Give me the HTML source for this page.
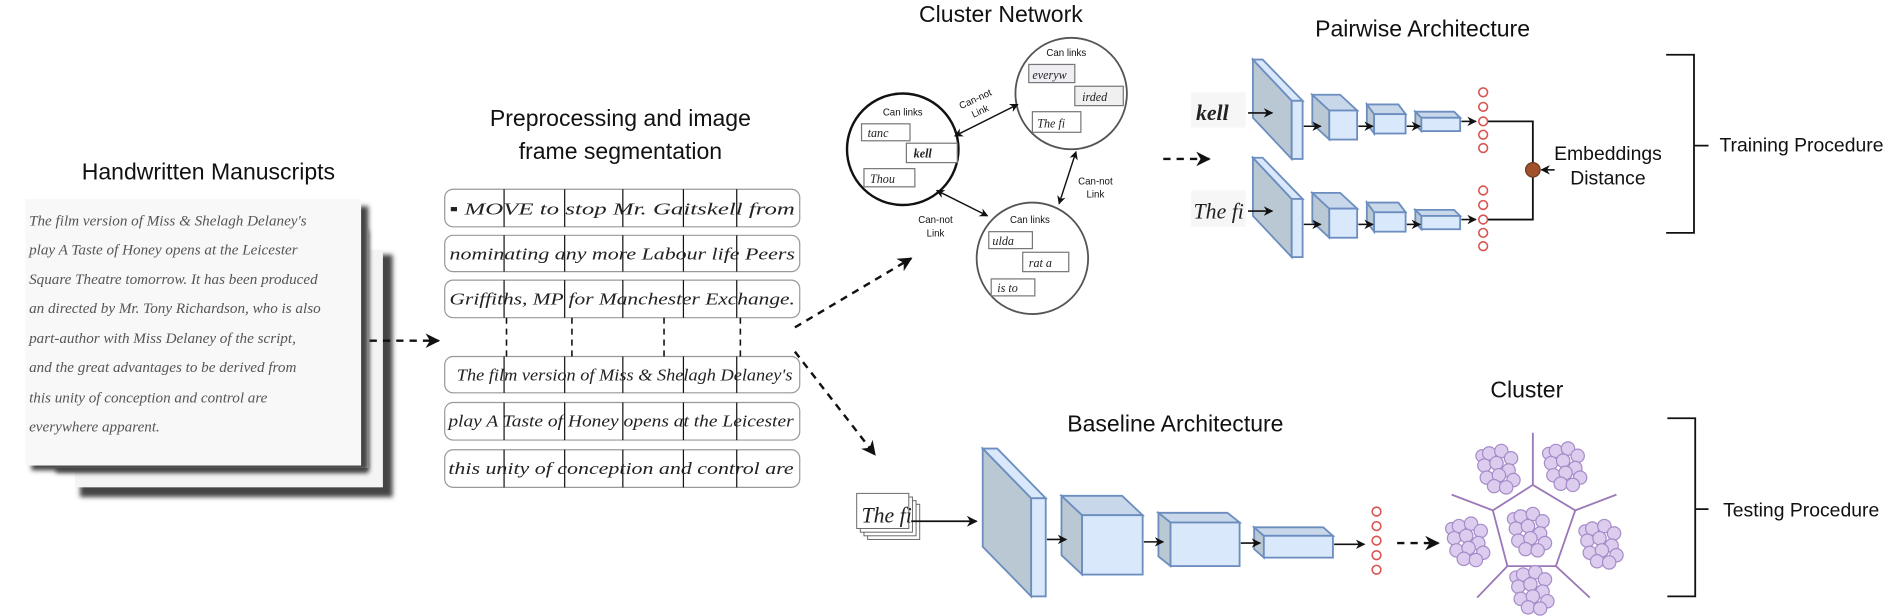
<!DOCTYPE html>
<html><head><meta charset="utf-8"><style>
html,body{margin:0;padding:0;background:#fff;}
svg{display:block;}
.t{font-family:"Liberation Sans",sans-serif;fill:#111;}
.h{font-family:"Liberation Serif",serif;font-style:italic;fill:#222;}
</style></head><body>
<svg width="1900" height="616" viewBox="0 0 1568 508" xmlns="http://www.w3.org/2000/svg">
<defs>
<marker id="a" viewBox="0 0 10 10" refX="9" refY="5" markerWidth="6" markerHeight="6" orient="auto-start-reverse"><path d="M0,0L10,5L0,10L3,5z" fill="#111"/></marker>
<filter id="sh" x="-10%" y="-10%" width="130%" height="130%"><feGaussianBlur stdDeviation="2"/></filter>
<g id="bl" fill="#dccdef" stroke="#a58cc8" stroke-width="1">
<circle cx="-14" cy="-10" r="5"/><circle cx="-8" cy="-12" r="5.5"/><circle cx="2" cy="-14" r="5.5"/><circle cx="10" cy="-8" r="5.5"/><circle cx="-12" cy="-2" r="5.5"/><circle cx="-2" cy="-4" r="5.5"/><circle cx="8" cy="2" r="5.5"/><circle cx="-10" cy="8" r="5.5"/><circle cx="0" cy="6" r="5.5"/><circle cx="12" cy="10" r="5.5"/><circle cx="-4" cy="15" r="5.5"/><circle cx="6" cy="16" r="5.5"/>
</g>
</defs>

<!-- Titles -->
<text class="t" x="172" y="148" font-size="19" text-anchor="middle">Handwritten Manuscripts</text>
<text class="t" x="512" y="104" font-size="19" text-anchor="middle">Preprocessing and image</text>
<text class="t" x="512" y="131" font-size="19" text-anchor="middle">frame segmentation</text>
<text class="t" x="826" y="18" font-size="19" text-anchor="middle">Cluster Network</text>
<text class="t" x="1174" y="30" font-size="19" text-anchor="middle">Pairwise Architecture</text>
<text class="t" x="970" y="356" font-size="19" text-anchor="middle">Baseline Architecture</text>
<text class="t" x="1260" y="328" font-size="19" text-anchor="middle">Cluster</text>
<text class="t" x="1419" y="125" font-size="16">Training Procedure</text>
<text class="t" x="1422" y="426" font-size="16">Testing Procedure</text>
<text class="t" x="1327" y="132" font-size="16" text-anchor="middle">Embeddings</text>
<text class="t" x="1327" y="152" font-size="16" text-anchor="middle">Distance</text>

<!-- Manuscript pages -->
<rect x="66" y="210" width="258" height="200" fill="#444" filter="url(#sh)"/>
<rect x="62" y="206" width="254" height="196" fill="#f4f4f4"/>
<rect x="46" y="190" width="258" height="200" fill="#444" filter="url(#sh)"/>
<rect x="42" y="186" width="262" height="200" fill="#f4f4f4"/>
<rect x="26" y="170" width="278" height="218" fill="#444" filter="url(#sh)"/>
<rect x="21" y="164" width="277" height="220" fill="#f8f8f8"/>
<g class="h" font-size="12.5" style="fill:#555">
<text x="24" y="186">The film version of Miss &amp; Shelagh Delaney's</text>
<text x="24" y="210">play  A Taste of Honey opens at the Leicester</text>
<text x="24" y="234">Square Theatre tomorrow. It has been produced</text>
<text x="24" y="258">an directed by Mr. Tony Richardson, who is also</text>
<text x="24" y="283">part-author with Miss Delaney of the script,</text>
<text x="24" y="307">and the great advantages to be derived from</text>
<text x="24" y="332">this unity of conception and control are</text>
<text x="24" y="356">everywhere apparent.</text>
</g>
<line x1="305" y1="281" x2="362" y2="281" stroke="#111" stroke-width="2" stroke-dasharray="6,5" marker-end="url(#a)"/>

<!-- Segmentation rows -->
<g fill="#fff" stroke="#999" stroke-width="1">
<rect x="367" y="156" width="293" height="31" rx="7"/>
<rect x="367" y="194" width="293" height="30" rx="7"/>
<rect x="367" y="231" width="293" height="31" rx="7"/>
<rect x="367" y="294" width="293" height="30" rx="7"/>
<rect x="367" y="332" width="293" height="31" rx="7"/>
<rect x="367" y="371" width="293" height="31" rx="7"/>
</g>
<g stroke="#111" stroke-width="1">
<path d="M416 156V187M466 156V187M514 156V187M564 156V187M608 156V187"/>
<path d="M416 194V224M466 194V224M514 194V224M564 194V224M608 194V224"/>
<path d="M416 231V262M466 231V262M514 231V262M564 231V262M608 231V262"/>
<path d="M416 294V324M466 294V324M514 294V324M564 294V324M608 294V324"/>
<path d="M416 332V363M466 332V363M514 332V363M564 332V363M608 332V363"/>
<path d="M416 371V402M466 371V402M514 371V402M564 371V402M608 371V402"/>
</g>
<g stroke="#111" stroke-width="1.3" stroke-dasharray="5,4">
<path d="M418 262V294M472 262V294M548 262V294M611 262V294"/>
</g>
<g class="h" font-size="14">
<text x="371" y="177" textLength="285" lengthAdjust="spacingAndGlyphs">▪ MOVE to stop Mr.  Gaitskell  from</text>
<text x="371" y="214" textLength="285" lengthAdjust="spacingAndGlyphs">nominating any more Labour life Peers</text>
<text x="371" y="251" textLength="285" lengthAdjust="spacingAndGlyphs">Griffiths, MP for Manchester Exchange.</text>
<text x="377" y="314" textLength="277" lengthAdjust="spacingAndGlyphs">The film version of Miss &amp; Shelagh Delaney's</text>
<text x="370" y="352" textLength="285" lengthAdjust="spacingAndGlyphs">play  A Taste of Honey opens at the Leicester</text>
<text x="370" y="391" textLength="285" lengthAdjust="spacingAndGlyphs">this unity of conception and control are</text>
</g>
<line x1="656" y1="270" x2="752" y2="213" stroke="#111" stroke-width="2" stroke-dasharray="6,5" marker-end="url(#a)"/>
<line x1="656" y1="290" x2="722" y2="375" stroke="#111" stroke-width="2" stroke-dasharray="6,5" marker-end="url(#a)"/>

<!-- Cluster network -->
<circle cx="745" cy="123" r="46" fill="#fff" stroke="#111" stroke-width="2"/>
<circle cx="884" cy="77" r="46" fill="#fff" stroke="#555" stroke-width="1.5"/>
<circle cx="852" cy="213" r="46" fill="#fff" stroke="#555" stroke-width="1.5"/>
<g class="t" font-size="8" text-anchor="middle">
<text x="745" y="95">Can links</text>
<text x="880" y="46">Can links</text>
<text x="850" y="184">Can links</text>
</g>
<g fill="#fff" stroke="#777" stroke-width="1">
<rect x="711" y="102" width="40" height="14"/><rect x="748" y="118" width="42" height="16"/><rect x="713" y="139" width="42" height="15"/>
<rect x="849" y="53" width="38" height="15" fill="#f0eef4"/><rect x="887" y="71" width="40" height="16" fill="#f0f0f0"/><rect x="852" y="92" width="40" height="17"/>
<rect x="816" y="191" width="36" height="14"/><rect x="844" y="208" width="38" height="16"/><rect x="818" y="230" width="36" height="14"/>
</g>
<g class="h" font-size="10">
<text x="716" y="113">tanc</text><text x="754" y="130" font-weight="bold">kell</text><text x="718" y="151">Thou</text>
<text x="852" y="65">everyw</text><text x="893" y="83">irded</text><text x="856" y="105">The  fi</text>
<text x="819" y="202">ulda</text><text x="849" y="220">rat  a</text><text x="823" y="241">is  to</text>
</g>
<g stroke="#111" stroke-width="1.2" marker-start="url(#a)" marker-end="url(#a)">
<line x1="788" y1="112" x2="840" y2="86"/>
<line x1="888" y1="125" x2="874" y2="168"/>
<line x1="773" y1="157" x2="815" y2="178"/>
</g>
<g class="t" font-size="8" text-anchor="middle">
<text x="806" y="84" transform="rotate(-25 806 84)">Can-not</text>
<text x="810" y="94" transform="rotate(-25 810 94)">Link</text>
<text x="904" y="152">Can-not</text><text x="904" y="163">Link</text>
<text x="772" y="184">Can-not</text><text x="772" y="195">Link</text>
</g>

<!-- Pairwise -->
<line x1="960" y1="131" x2="998" y2="131" stroke="#111" stroke-width="2" stroke-dasharray="6,5" marker-end="url(#a)"/>
<rect x="983" y="76" width="45" height="29" fill="#f6f6f6"/>
<text class="h" x="987" y="99" font-size="18" font-weight="bold" fill="#000">kell</text>
<rect x="983" y="157" width="45" height="30" fill="#f6f6f6"/>
<text class="h" x="985" y="180" font-size="18">The  fi</text>
<g id="pw">
<polygon points="1034,49 1066,83 1066,131 1034,97" fill="#bac8d3" stroke="#6c8ebf" stroke-width="1.5"/>
<polygon points="1034,49 1042,49 1075,83 1066,83" fill="#dae8fc" stroke="#6c8ebf" stroke-width="1.5"/>
<rect x="1066" y="83" width="9" height="48" fill="#dae8fc" stroke="#6c8ebf" stroke-width="1.5"/>
<polygon points="1083,78 1097,91 1097,115 1083,102" fill="#bac8d3" stroke="#6c8ebf" stroke-width="1.5"/>
<polygon points="1083,78 1106,78 1120,91 1097,91" fill="#c9d7ea" stroke="#6c8ebf" stroke-width="1.5"/>
<rect x="1097" y="91" width="23" height="24" fill="#dae8fc" stroke="#6c8ebf" stroke-width="1.5"/>
<polygon points="1128,86 1134,94 1134,110 1128,102" fill="#bac8d3" stroke="#6c8ebf" stroke-width="1.5"/>
<polygon points="1128,86 1154,86 1160,94 1134,94" fill="#c9d7ea" stroke="#6c8ebf" stroke-width="1.5"/>
<rect x="1134" y="94" width="26" height="16" fill="#dae8fc" stroke="#6c8ebf" stroke-width="1.5"/>
<polygon points="1168,92 1173,97 1173,108 1168,103" fill="#bac8d3" stroke="#6c8ebf" stroke-width="1.5"/>
<polygon points="1168,92 1200,92 1205,97 1173,97" fill="#c9d7ea" stroke="#6c8ebf" stroke-width="1.5"/>
<rect x="1173" y="97" width="32" height="11" fill="#dae8fc" stroke="#6c8ebf" stroke-width="1.5"/>
<g stroke="#111" stroke-width="1.3" marker-end="url(#a)">
<line x1="1030" y1="93" x2="1050" y2="93"/>
<line x1="1076" y1="104" x2="1090" y2="104"/>
<line x1="1121" y1="104" x2="1133" y2="104"/>
<line x1="1161" y1="104" x2="1172" y2="104"/>
<line x1="1206" y1="100" x2="1218" y2="100"/>
</g>
<g fill="#fff" stroke="#d9534f" stroke-width="1.3">
<circle cx="1224" cy="76" r="3.6"/><circle cx="1224" cy="88" r="3.6"/><circle cx="1224" cy="100" r="3.6"/><circle cx="1224" cy="111" r="3.6"/><circle cx="1224" cy="122" r="3.6"/>
</g>
</g>
<use href="#pw" transform="translate(0,81)"/>
<path d="M1228 100H1265V181H1228" fill="none" stroke="#111" stroke-width="1.5"/>
<circle cx="1265" cy="140" r="6" fill="#a0522d" stroke="#6b3a1a"/>
<line x1="1283" y1="140" x2="1272" y2="140" stroke="#111" stroke-width="1.3" marker-end="url(#a)"/>
<path d="M1375 45H1398V192H1375M1398 120H1410" fill="none" stroke="#111" stroke-width="1.5"/>

<!-- Baseline -->
<g fill="#fff" stroke="#666" stroke-width="0.8">
<rect x="716" y="416" width="43" height="29"/><rect x="713" y="413" width="43" height="29"/><rect x="710" y="410" width="43" height="29"/><rect x="707" y="407" width="43" height="29"/>
</g>
<text class="h" x="711" y="431" font-size="18">The  fi</text>
<line x1="752" y1="430" x2="806" y2="430" stroke="#111" stroke-width="1.5" marker-end="url(#a)"/>
<polygon points="811,370 851,411 851,492 811,451" fill="#bac8d3" stroke="#6c8ebf" stroke-width="1.5"/>
<polygon points="811,370 823,370 863,411 851,411" fill="#dae8fc" stroke="#6c8ebf" stroke-width="1.5"/>
<rect x="851" y="411" width="12" height="81" fill="#dae8fc" stroke="#6c8ebf" stroke-width="1.5"/>
<polygon points="876,409 893,425 893,474 876,458" fill="#bac8d3" stroke="#6c8ebf" stroke-width="1.5"/>
<polygon points="876,409 926,409 943,425 893,425" fill="#c9d7ea" stroke="#6c8ebf" stroke-width="1.5"/>
<rect x="893" y="425" width="50" height="49" fill="#dae8fc" stroke="#6c8ebf" stroke-width="1.5"/>
<polygon points="956,423 966,431 966,467 956,459" fill="#bac8d3" stroke="#6c8ebf" stroke-width="1.5"/>
<polygon points="956,423 1013,423 1023,431 966,431" fill="#c9d7ea" stroke="#6c8ebf" stroke-width="1.5"/>
<rect x="966" y="431" width="57" height="36" fill="#dae8fc" stroke="#6c8ebf" stroke-width="1.5"/>
<polygon points="1035,435 1043,442 1043,460 1035,453" fill="#bac8d3" stroke="#6c8ebf" stroke-width="1.5"/>
<polygon points="1035,435 1092,435 1100,442 1043,442" fill="#c9d7ea" stroke="#6c8ebf" stroke-width="1.5"/>
<rect x="1043" y="442" width="57" height="18" fill="#dae8fc" stroke="#6c8ebf" stroke-width="1.5"/>
<g stroke="#111" stroke-width="1.3" marker-end="url(#a)">
<line x1="864" y1="445" x2="880" y2="445"/>
<line x1="944" y1="447" x2="960" y2="447"/>
<line x1="1024" y1="448" x2="1040" y2="448"/>
<line x1="1101" y1="449" x2="1126" y2="449"/>
</g>
<g fill="#fff" stroke="#d9534f" stroke-width="1.3">
<circle cx="1136" cy="422" r="3.6"/><circle cx="1136" cy="434" r="3.6"/><circle cx="1136" cy="446" r="3.6"/><circle cx="1136" cy="458" r="3.6"/><circle cx="1136" cy="470" r="3.6"/>
</g>
<line x1="1153" y1="448" x2="1187" y2="448" stroke="#111" stroke-width="2" stroke-dasharray="6,5" marker-end="url(#a)"/>

<!-- Cluster -->
<g stroke="#9b79b8" stroke-width="1.5" fill="none">
<polygon points="1265,400 1300,421 1284,467 1244,467 1232,421"/>
<path d="M1265 400V357M1300 421L1334 408M1284 467L1312 493M1244 467L1219 493M1232 421L1198 408"/>
</g>
<use href="#bl" transform="translate(1237,386)"/>
<use href="#bl" transform="translate(1292,384)"/>
<use href="#bl" transform="translate(1212,446)"/>
<use href="#bl" transform="translate(1263,438)"/>
<use href="#bl" transform="translate(1322,448)"/>
<use href="#bl" transform="translate(1265,486)"/>
<path d="M1376 345H1399V492H1376M1399 420H1410" fill="none" stroke="#111" stroke-width="1.5"/>
</svg>
</body></html>
